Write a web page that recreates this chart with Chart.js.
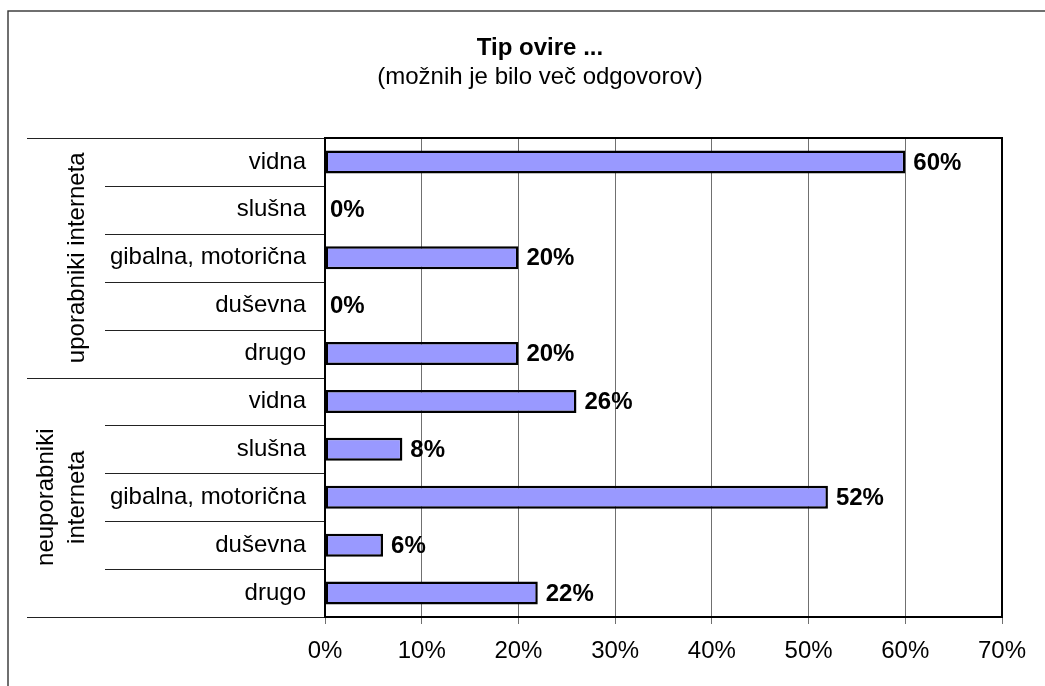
<!DOCTYPE html>
<html>
<head>
<meta charset="utf-8">
<title>Tip ovire</title>
<script src="https://cdn.jsdelivr.net/npm/chart.js@4.4.1/dist/chart.umd.min.js"></script>
<style>
    html, body { margin: 0; padding: 0; background: #ffffff; }
    canvas { display: block; }
</style>
</head>
<body>
<canvas id="barChart" width="1045" height="686"></canvas>
<script>
const categories = ['vidna', 'slušna', 'gibalna, motorična', 'duševna', 'drugo'];
const userValues = [60, 0, 20, 0, 20];
const nonUserValues = [26, 8, 52, 6, 22];
const groupNames = [['uporabniki interneta'], ['neuporabniki', 'interneta']];
const tickValues = [0, 10, 20, 30, 40, 50, 60, 70];

const FONT = "'Liberation Sans', Arial, sans-serif";
const labels = categories.concat(categories);
const values = userValues.concat(nonUserValues);

// frame around the whole chart, clipped by the canvas on the right and bottom
const outerFrame = {
    id: 'outerFrame',
    beforeDraw(chart) {
        const ctx = chart.ctx;
        ctx.save();
        ctx.strokeStyle = '#333333';
        ctx.lineWidth = 1.4;
        ctx.strokeRect(8, 11, chart.width + 100, chart.height + 100);
        ctx.restore();
    }
};

// separator lines and rotated group names left of the category axis
const groupAxis = {
    id: 'groupAxis',
    afterDraw(chart) {
        const ctx = chart.ctx;
        const area = chart.chartArea;
        const yScale = chart.scales.y;
        const count = labels.length;
        const boundary = (i) => {
            if (i === 0) return area.top;
            if (i === count) return area.bottom;
            return (yScale.getPixelForTick(i - 1) + yScale.getPixelForTick(i)) / 2;
        };

        ctx.save();
        ctx.strokeStyle = '#222222';
        ctx.lineWidth = 1;
        for (let i = 0; i <= count; i++) {
            const y = Math.round(boundary(i)) + 0.5;
            const isGroupEdge = i % categories.length === 0;
            ctx.beginPath();
            ctx.moveTo(isGroupEdge ? 27 : 105, y);
            ctx.lineTo(area.left, y);
            ctx.stroke();
        }

        ctx.fillStyle = '#000000';
        ctx.font = '24px ' + FONT;
        ctx.textAlign = 'center';
        ctx.textBaseline = 'middle';
        groupNames.forEach((lines, g) => {
            const top = boundary(g * categories.length);
            const bottom = boundary((g + 1) * categories.length);
            const center = (top + bottom) / 2;
            lines.forEach((line, k) => {
                const x = 77 - (lines.length - 1 - k) * 31;
                ctx.save();
                ctx.translate(x, center);
                ctx.rotate(-Math.PI / 2);
                ctx.fillText(line, 0, 0);
                ctx.restore();
            });
        });

        // plot area border
        ctx.strokeStyle = '#000000';
        ctx.lineWidth = 2;
        ctx.strokeRect(area.left, area.top, area.right - area.left, area.bottom - area.top);
        ctx.restore();
    }
};

// percentage label at the end of each bar
const valueLabels = {
    id: 'valueLabels',
    afterDatasetsDraw(chart) {
        const ctx = chart.ctx;
        const meta = chart.getDatasetMeta(0);
        ctx.save();
        ctx.fillStyle = '#000000';
        ctx.font = 'bold 24px ' + FONT;
        ctx.textAlign = 'left';
        ctx.textBaseline = 'middle';
        meta.data.forEach((bar, i) => {
            const gap = values[i] === 0 ? 5 : 8;
            ctx.fillText(values[i] + '%', bar.x + gap, bar.y + 1);
        });
        ctx.restore();
    }
};

const chart = new Chart(document.getElementById('barChart').getContext('2d'), {
    type: 'bar',
    data: {
        labels: labels,
        datasets: [{
            data: values,
            backgroundColor: '#9999ff',
            borderColor: '#000000',
            borderWidth: 2.5,
            borderSkipped: false,
            barPercentage: 0.48,
            categoryPercentage: 1
        }]
    },
    options: {
        indexAxis: 'y',
        responsive: false,
        animation: false,
        layout: { padding: { left: 78, right: 43, top: 34, bottom: 0 } },
        plugins: {
            legend: { display: false },
            tooltip: { enabled: false },
            title: {
                display: true,
                text: 'Tip ovire ...',
                color: '#000000',
                font: { family: FONT, size: 24, weight: 'bold', lineHeight: 1.2 },
                padding: { top: 0, bottom: 0 }
            },
            subtitle: {
                display: true,
                text: '(možnih je bilo več odgovorov)',
                color: '#000000',
                font: { family: FONT, size: 24, lineHeight: 1.2 },
                padding: { top: 0, bottom: 46.4 }
            }
        },
        scales: {
            x: {
                min: 0,
                max: 70,
                afterBuildTicks(scale) {
                    scale.ticks = tickValues.map((v) => ({ value: v }));
                },
                afterFit(scale) {
                    scale.height = 69;
                    scale.paddingLeft = 0;
                    scale.paddingRight = 0;
                },
                grid: {
                    color: '#707070',
                    lineWidth: 1,
                    tickLength: 7
                },
                border: { display: false },
                ticks: {
                    color: '#000000',
                    font: { family: FONT, size: 24 },
                    padding: 13,
                    maxRotation: 0,
                    callback: (value) => value + '%'
                }
            },
            y: {
                offset: true,
                afterFit(scale) {
                    scale.width = 247;
                    scale.paddingTop = 0;
                    scale.paddingBottom = 0;
                },
                grid: { display: false },
                border: { display: false },
                ticks: {
                    color: '#000000',
                    font: { family: FONT, size: 24 },
                    padding: 11,
                    autoSkip: false
                }
            }
        }
    },
    plugins: [outerFrame, groupAxis, valueLabels]
});
</script>
</body>
</html>
